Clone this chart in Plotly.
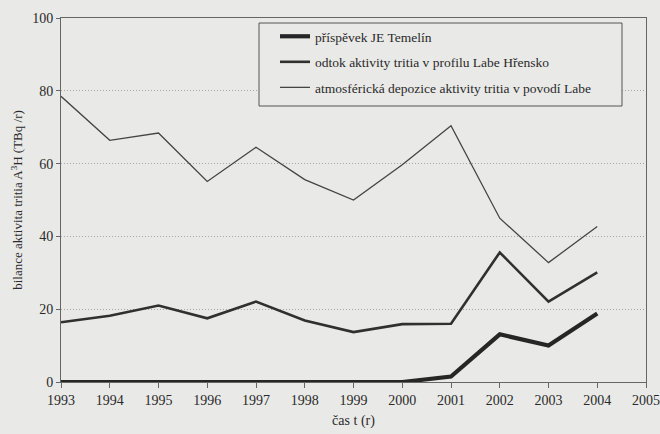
import plotly.graph_objects as go

# Tritium activity balance, 1993-2004 (TBq per year)
years = [1993, 1994, 1995, 1996, 1997, 1998, 1999, 2000, 2001, 2002, 2003, 2004]
temelin = [0, 0, 0, 0, 0, 0, 0, 0, 1.5, 13.1, 10.0, 18.8]
odtok_hrensko = [16.4, 18.2, 21.0, 17.5, 22.1, 16.9, 13.7, 15.9, 16.0, 35.6, 22.1, 30.1]
depozice = [78.5, 66.4, 68.4, 55.1, 64.5, 55.6, 50.0, 59.7, 70.4, 45.0, 32.8, 42.7]

names = [
    "příspěvek JE Temelín",
    "odtok aktivity tritia v profilu Labe Hřensko",
    "atmosférická depozice aktivity tritia v povodí Labe",
]
x_ticks = list(range(1993, 2006))
y_ticks = [0, 20, 40, 60, 80, 100]

BG = "#e9e9e7"
FONT = "'Liberation Serif', 'DejaVu Serif', serif"

fig = go.Figure()
fig.add_trace(go.Scatter(x=years, y=temelin, mode="lines", name=names[0],
                         line=dict(color="#262626", width=4.2), legendgroup="a"))
fig.add_trace(go.Scatter(x=years, y=odtok_hrensko, mode="lines", name=names[1],
                         line=dict(color="#303030", width=2.6), legendgroup="b"))
fig.add_trace(go.Scatter(x=years, y=depozice, mode="lines", name=names[2],
                         line=dict(color="#444444", width=1.3), legendgroup="c"))

L, R, T, B = 61, 14, 18, 52
W, H = 660, 434
pw, ph = W - L - R, H - T - B

def px(xp):
    return (xp - L) / pw

def py(yp):
    return (H - B - yp) / ph

fig.update_layout(
    width=W, height=H,
    margin=dict(l=L, r=R, t=T, b=B, autoexpand=False),
    paper_bgcolor=BG, plot_bgcolor=BG,
    font=dict(family=FONT, size=14, color="#2a2a2a"),
    showlegend=True,
    legend=dict(
        x=px(275), y=py(21), xanchor="left", yanchor="top",
        bgcolor="rgba(0,0,0,0)", borderwidth=0,
        font=dict(family=FONT, size=13.5, color="#2a2a2a"),
        tracegroupgap=5, itemwidth=30,
    ),
    shapes=[dict(
        type="rect", xref="paper", yref="paper",
        x0=px(259), x1=px(622), y0=py(106), y1=py(23),
        line=dict(color="#555555", width=1), fillcolor=BG, layer="above",
    )],
    xaxis=dict(
        range=[1993, 2005], tickvals=x_ticks, ticktext=[str(v) for v in x_ticks],
        showgrid=False, zeroline=False, automargin=False,
        showline=True, linecolor="#666666", linewidth=1, mirror=True,
        ticks="outside", ticklen=5, tickcolor="#666666",
        tickfont=dict(family=FONT, size=14),
        title=dict(text="čas t (r)", font=dict(family=FONT, size=14), standoff=8),
    ),
    yaxis=dict(
        range=[0, 100], tickvals=y_ticks, automargin=False,
        showgrid=True, gridcolor="#a5a5a5", griddash="1px,2px", gridwidth=1,
        zeroline=False,
        showline=True, linecolor="#666666", linewidth=1, mirror=True,
        ticks="outside", ticklen=4, tickcolor="#666666",
        tickfont=dict(family=FONT, size=14),
        title=dict(text="bilance aktivita tritia A<sup>3</sup>H (TBq /r)",
                   font=dict(family=FONT, size=13), standoff=6),
    ),
)

fig.write_html("out.html")
